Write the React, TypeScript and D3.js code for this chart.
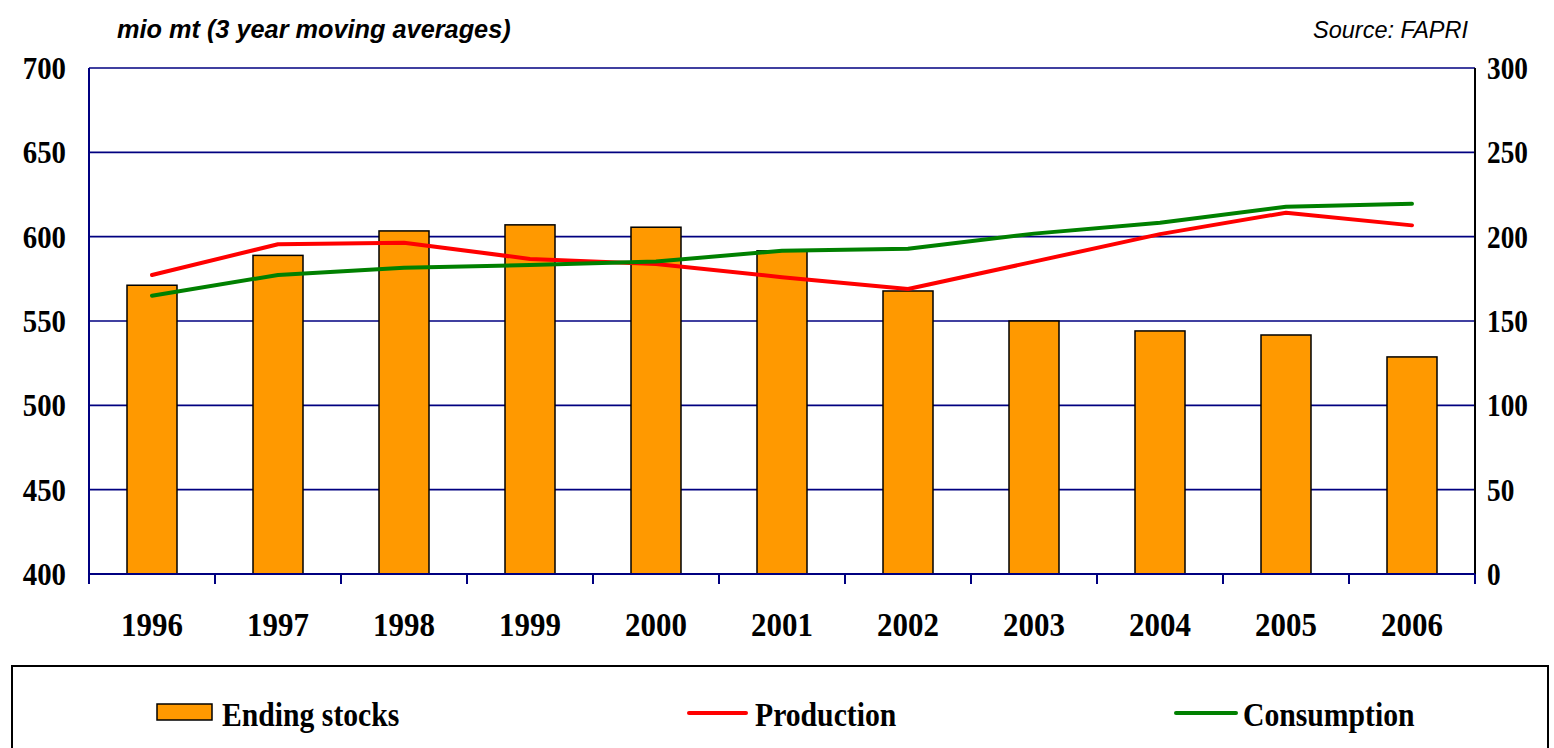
import React from "react";
import * as d3 from "d3";

const categories = ["1996", "1997", "1998", "1999", "2000", "2001", "2002", "2003", "2004", "2005", "2006"];
const endingStocks = [171.2, 188.9, 203.4, 207.0, 205.6, 191.6, 167.8, 150.0, 144.1, 141.7, 128.7];
const production = [577.3, 595.5, 596.4, 586.8, 583.8, 576.0, 569.0, 585.2, 601.5, 614.2, 606.7];
const consumption = [565.0, 577.3, 581.6, 583.2, 585.3, 591.6, 592.8, 601.8, 608.3, 617.8, 619.5];
const leftTicks = [400, 450, 500, 550, 600, 650, 700];
const rightTicks = [0, 50, 100, 150, 200, 250, 300];

const W = 1554;
const H = 748;
const plot = { left: 89, right: 1475, top: 68, bottom: 574 };
const serif = "'Liberation Serif', 'Times New Roman', serif";
const sans = "'Liberation Sans', Arial, sans-serif";

function CText(props: {
  x: number;
  y: number;
  sx: number;
  size: number;
  anchor?: string;
  dy?: string;
  children: React.ReactNode;
}) {
  const { x, y, sx, size, anchor, dy, children } = props;
  return (
    <g transform={`translate(${x},${y}) scale(${sx},1)`}>
      <text x={0} y={0} dy={dy} textAnchor={anchor || "start"} fontFamily={serif} fontWeight="bold" fontSize={size} fill="#000">
        {children}
      </text>
    </g>
  );
}

export default function App() {
  const x = d3.scaleBand<string>().domain(categories).range([plot.left, plot.right]).padding(0);
  const yL = d3.scaleLinear().domain([400, 700]).range([plot.bottom, plot.top]);
  const yR = d3.scaleLinear().domain([0, 300]).range([plot.bottom, plot.top]);
  const bw = x.bandwidth();
  const barW = 50;
  const cx = (c: string) => (x(c) as number) + bw / 2;

  const lineGen = d3
    .line<number>()
    .x((_, i) => cx(categories[i]))
    .y((d) => yL(d));

  const boundaries = d3.range(categories.length + 1).map((i) => plot.left + i * bw);

  return (
    <svg width={W} height={H} style={{ position: "absolute", left: 0, top: 0, background: "#fff" }}>
      <rect x={0} y={0} width={W} height={H} fill="#fff" />
      <text x={117} y={38} fontFamily={sans} fontStyle="italic" fontWeight="bold" fontSize={25.3} fill="#000">
        mio mt (3 year moving averages)
      </text>
      <text x={1468} y={38} textAnchor="end" fontFamily={sans} fontStyle="italic" fontSize={23.5} fill="#000">
        Source: FAPRI
      </text>

      {/* gridlines */}
      {leftTicks.map((t) => (
        <line key={"g" + t} x1={plot.left} x2={plot.right} y1={yL(t)} y2={yL(t)} stroke="#000080" strokeWidth={1.6} />
      ))}

      {/* bars */}
      {endingStocks.map((v, i) => (
        <rect
          key={"b" + i}
          x={cx(categories[i]) - barW / 2}
          y={yR(v)}
          width={barW}
          height={plot.bottom - yR(v)}
          fill="#FF9900"
          stroke="#000"
          strokeWidth={1.5}
        />
      ))}

      {/* lines */}
      <path d={lineGen(production) || ""} fill="none" stroke="#FF0000" strokeWidth={4} strokeLinejoin="round" strokeLinecap="round" />
      <path d={lineGen(consumption) || ""} fill="none" stroke="#008000" strokeWidth={4} strokeLinejoin="round" strokeLinecap="round" />

      {/* axes */}
      <line x1={plot.left} x2={plot.left} y1={plot.top} y2={plot.bottom} stroke="#000080" strokeWidth={2} />
      <line x1={plot.right} x2={plot.right} y1={plot.top} y2={plot.bottom + 1} stroke="#000" strokeWidth={2} />
      <line x1={plot.left} x2={plot.right} y1={plot.bottom} y2={plot.bottom} stroke="#000080" strokeWidth={2} />
      {boundaries.map((b, i) => (
        <line key={"t" + i} x1={b} x2={b} y1={plot.bottom} y2={plot.bottom + 10} stroke="#000080" strokeWidth={2} />
      ))}

      {/* left tick labels */}
      {leftTicks.map((t) => (
        <CText key={"l" + t} x={66} y={yL(t)} dy="0.35em" anchor="end" size={31} sx={0.93}>
          {t}
        </CText>
      ))}
      {rightTicks.map((t) => (
        <CText key={"r" + t} x={1487} y={yR(t)} dy="0.35em" anchor="start" size={31} sx={0.88}>
          {t}
        </CText>
      ))}

      {/* x labels */}
      {categories.map((c) => (
        <CText key={"x" + c} x={cx(c)} y={636} anchor="middle" size={34} sx={0.91}>
          {c}
        </CText>
      ))}

      {/* legend */}
      <rect x={12} y={666} width={1536} height={110} fill="none" stroke="#000" strokeWidth={2} />
      <rect x={157} y={704} width={55} height={16} fill="#FF9900" stroke="#000" strokeWidth={1.5} />
      <CText x={222} y={726} size={33} sx={0.9}>Ending stocks</CText>
      <line x1={689} x2={746} y1={713} y2={713} stroke="#FF0000" strokeWidth={4} strokeLinecap="round" />
      <CText x={755} y={726} size={33} sx={0.9}>Production</CText>
      <line x1={1176} x2={1236} y1={713} y2={713} stroke="#008000" strokeWidth={4} strokeLinecap="round" />
      <CText x={1243} y={726} size={33} sx={0.9}>Consumption</CText>
    </svg>
  );
}
